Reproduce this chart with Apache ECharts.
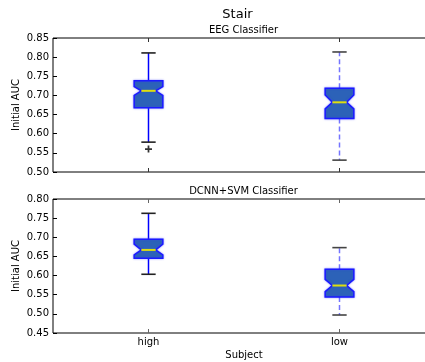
<!DOCTYPE html>
<html><head><meta charset="utf-8">
<script src="https://cdn.jsdelivr.net/npm/echarts@6/dist/echarts.min.js"></script>
<style>html,body{margin:0;padding:0;background:#fff;overflow:hidden}#c{width:425px;height:362px}</style>
</head><body><div id="c"></div>
<script>
const categories = ['high', 'low'];
const yTicksTop = [0.50, 0.55, 0.60, 0.65, 0.70, 0.75, 0.80, 0.85];
const yTicksBottom = [0.45, 0.50, 0.55, 0.60, 0.65, 0.70, 0.75, 0.80];

// EEG Classifier
const eegLowerWhisker = [0.578, 0.531];
const eegQ1 = [0.668, 0.640];
const eegNotchLow = [0.700, 0.665];
const eegMedian = [0.712, 0.682];
const eegNotchHigh = [0.723, 0.701];
const eegQ3 = [0.7385, 0.719];
const eegUpperWhisker = [0.811, 0.8135];
const eegOutliers = [[0, 0.560]];

// DCNN+SVM Classifier
const dcnnLowerWhisker = [0.6034, 0.497];
const dcnnQ1 = [0.645, 0.544];
const dcnnNotchLow = [0.654, 0.558];
const dcnnMedian = [0.667, 0.574];
const dcnnNotchHigh = [0.682, 0.590];
const dcnnQ3 = [0.695, 0.6165];
const dcnnUpperWhisker = [0.7626, 0.673];
const dcnnOutliers = [];

const dashedWhisker = [0, 1];

function buildBoxData(lw, q1, nl, md, nh, q3, uw) {
  return categories.map((c, i) => [i, lw[i], q1[i], nl[i], md[i], nh[i], q3[i], uw[i], dashedWhisker[i]]);
}

function renderBox(params, api) {
  const x = api.value(0);
  const band = api.size([1, 0])[0];
  const w = band * 0.15;
  const hw = w / 2, qw = w / 4;
  const cx = api.coord([x, api.value(4)])[0];
  const y = v => api.coord([x, v])[1];
  const yLW = y(api.value(1)), yQ1 = y(api.value(2)), yNL = y(api.value(3)),
        yMed = y(api.value(4)), yNH = y(api.value(5)), yQ3 = y(api.value(6)), yUW = y(api.value(7));
  const dashed = api.value(8) === 1;
  const wStyle = dashed
    ? { stroke: '#7474ff', lineWidth: 1.5, lineDash: [5, 3], fill: null }
    : { stroke: '#0000ff', lineWidth: 1.5, fill: null };
  const capStyle = { stroke: dashed ? '#444' : '#222', lineWidth: 1.6 };
  return {
    type: 'group',
    children: [
      { type: 'line', shape: { x1: cx, y1: yQ3, x2: cx, y2: yUW }, style: wStyle },
      { type: 'line', shape: { x1: cx, y1: yQ1, x2: cx, y2: yLW }, style: wStyle },
      { type: 'line', shape: { x1: cx - qw, y1: yUW, x2: cx + qw, y2: yUW }, style: capStyle },
      { type: 'line', shape: { x1: cx - qw, y1: yLW, x2: cx + qw, y2: yLW }, style: capStyle },
      { type: 'polygon', shape: { points: [
          [cx - hw, yQ1], [cx - hw, yNL], [cx - qw, yMed], [cx - hw, yNH], [cx - hw, yQ3],
          [cx + hw, yQ3], [cx + hw, yNH], [cx + qw, yMed], [cx + hw, yNL], [cx + hw, yQ1]] },
        style: { fill: '#2c62b8', stroke: '#1a1aff', lineWidth: 1.5, shadowBlur: 2, shadowColor: 'rgba(60,60,255,0.5)' } },
      { type: 'line', shape: { x1: cx - qw, y1: yMed, x2: cx + qw, y2: yMed }, style: { stroke: '#dede10', lineWidth: 2 } }
    ]
  };
}

const font = 'DejaVu Sans';
const plusPath = 'path://M2.25,0H3.75V2.25H6V3.75H3.75V6H2.25V3.75H0V2.25H2.25Z';

function yAxisCfg(gi, min, max, ticks) {
  return {
    type: 'value', gridIndex: gi, min: min, max: max, interval: 0.05,
    axisLine: { show: false },
    axisTick: { show: true, inside: true, length: 4, lineStyle: { color: '#000' } },
    axisLabel: { color: '#000', fontFamily: font, fontSize: 10, margin: 4,
      formatter: v => { const s = v.toFixed(2); return ticks.some(t => t.toFixed(2) === s) ? s : ''; } },
    splitLine: { show: false }
  };
}
function xAxisCfg(gi, pos, labels, tickColor) {
  return {
    type: 'category', gridIndex: gi, position: pos, data: categories, boundaryGap: true,
    axisLine: { show: false },
    axisTick: { show: true, inside: true, alignWithLabel: true, length: 4, lineStyle: { color: tickColor } },
    axisLabel: { show: labels, color: '#000', fontFamily: font, fontSize: 10, margin: 4 },
    splitLine: { show: false }
  };
}

const chart = echarts.init(document.getElementById('c'), null, { renderer: 'canvas' });
chart.setOption({
  animation: false,
  backgroundColor: '#fff',
  grid: [
    { left: 53, top: 38, height: 134, width: 382, containLabel: false, outerBoundsMode: 'none', show: true, borderColor: '#000', borderWidth: 1, backgroundColor: 'transparent' },
    { left: 53, top: 199, height: 134, width: 382, containLabel: false, outerBoundsMode: 'none', show: true, borderColor: '#000', borderWidth: 1, backgroundColor: 'transparent' }
  ],
  xAxis: [
    xAxisCfg(0, 'bottom', false, '#333'),
    xAxisCfg(0, 'top', false, '#333'),
    xAxisCfg(1, 'bottom', true, '#666'),
    xAxisCfg(1, 'top', false, '#666')
  ],
  yAxis: [
    yAxisCfg(0, 0.50, 0.85, yTicksTop),
    yAxisCfg(1, 0.45, 0.80, yTicksBottom)
  ],
  graphic: [
    { type: 'text', x: 237.5, y: 15, style: { text: 'Stair', font: '13px "DejaVu Sans"', fill: '#000', textAlign: 'center', textVerticalAlign: 'middle' } },
    { type: 'text', x: 243.5, y: 30.5, style: { text: 'EEG Classifier', font: '10px "DejaVu Sans"', fill: '#000', textAlign: 'center', textVerticalAlign: 'middle' } },
    { type: 'text', x: 243.5, y: 191.5, style: { text: 'DCNN+SVM Classifier', font: '10px "DejaVu Sans"', fill: '#000', textAlign: 'center', textVerticalAlign: 'middle' } },
    { type: 'text', x: 16.5, y: 105, rotation: Math.PI / 2, style: { text: 'Initial AUC', font: '10px "DejaVu Sans"', fill: '#000', textAlign: 'center', textVerticalAlign: 'middle' } },
    { type: 'text', x: 16.5, y: 266, rotation: Math.PI / 2, style: { text: 'Initial AUC', font: '10px "DejaVu Sans"', fill: '#000', textAlign: 'center', textVerticalAlign: 'middle' } },
    { type: 'text', x: 244, y: 355, style: { text: 'Subject', font: '10px "DejaVu Sans"', fill: '#000', textAlign: 'center', textVerticalAlign: 'middle' } }
  ],
  series: [
    { type: 'custom', xAxisIndex: 0, yAxisIndex: 0, renderItem: renderBox,
      data: buildBoxData(eegLowerWhisker, eegQ1, eegNotchLow, eegMedian, eegNotchHigh, eegQ3, eegUpperWhisker) },
    { type: 'scatter', xAxisIndex: 0, yAxisIndex: 0, symbol: plusPath, symbolSize: 7,
      itemStyle: { color: '#000' }, data: eegOutliers },
    { type: 'custom', xAxisIndex: 2, yAxisIndex: 1, renderItem: renderBox,
      data: buildBoxData(dcnnLowerWhisker, dcnnQ1, dcnnNotchLow, dcnnMedian, dcnnNotchHigh, dcnnQ3, dcnnUpperWhisker) },
    { type: 'scatter', xAxisIndex: 2, yAxisIndex: 1, symbol: plusPath, symbolSize: 7,
      itemStyle: { color: '#000' }, data: dcnnOutliers }
  ]
});
</script>
</body></html>
